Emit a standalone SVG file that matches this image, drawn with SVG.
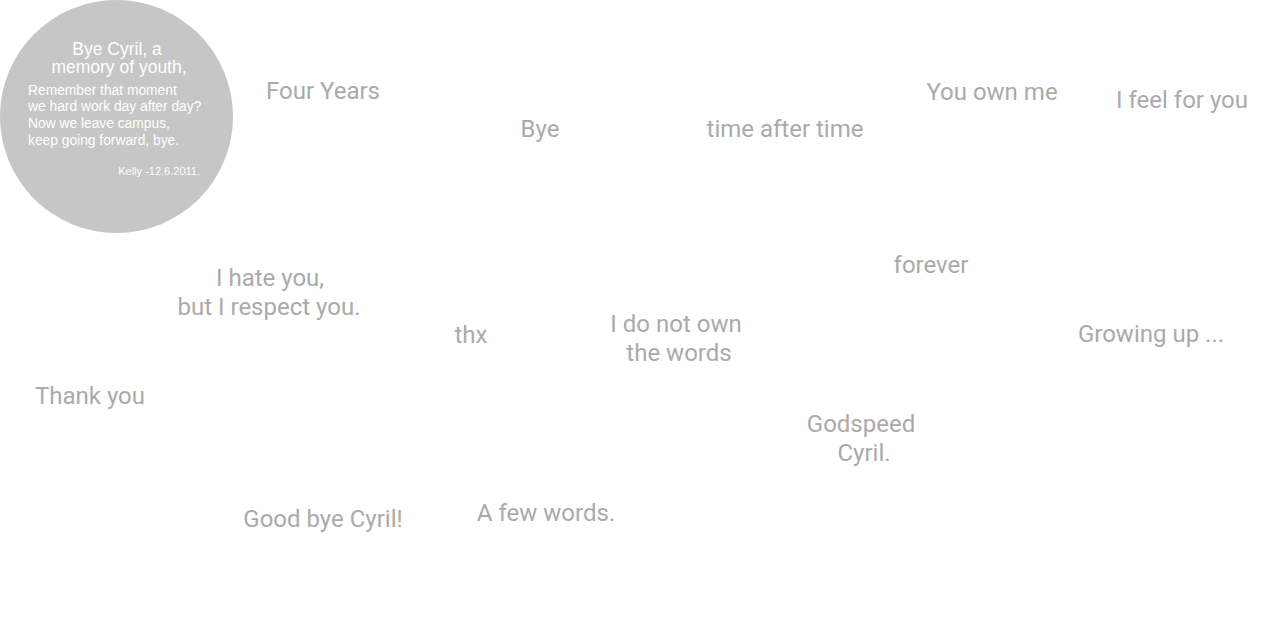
<svg xmlns="http://www.w3.org/2000/svg" width="1281" height="637" viewBox="0 0 1281 637">
<style>
.w{font-family:Roboto,"Liberation Sans",sans-serif;font-size:24px;fill:#aaaaaa;text-anchor:middle}
.c{font-family:"Liberation Sans",Arial,sans-serif;fill:#ffffff}
</style>
<rect width="1281" height="637" fill="#ffffff"/>
<g id="note">
<circle cx="116.5" cy="116.5" r="116.5" fill="#c6c6c6"/>
<text class="c" x="117" y="55" font-size="17.5" text-anchor="middle">Bye Cyril, a</text>
<text class="c" x="119" y="73" font-size="17.5" text-anchor="middle">memory of youth,</text>
<text class="c" x="28" y="95" font-size="13.8">Remember that moment</text>
<text class="c" x="28" y="111" font-size="13.8">we hard work day after day?</text>
<text class="c" x="28" y="128" font-size="13.8">Now we leave campus,</text>
<text class="c" x="28" y="145" font-size="13.8">keep going forward, bye.</text>
<text class="c" x="200" y="175" font-size="11" text-anchor="end">Kelly -12.6.2011.</text>
</g>
<g id="four-years"><text class="w" x="323" y="99">Four Years</text></g>
<g id="bye"><text class="w" x="540" y="137">Bye</text></g>
<g id="time-after-time"><text class="w" x="785" y="137">time after time</text></g>
<g id="you-own-me"><text class="w" x="992" y="100">You own me</text></g>
<g id="i-feel-for-you"><text class="w" x="1182" y="108">I feel for you</text></g>
<g id="forever"><text class="w" x="931" y="273">forever</text></g>
<g id="i-hate-you"><text class="w" x="270" y="286">I hate you,</text><text class="w" x="269" y="315">but I respect you.</text></g>
<g id="thx"><text class="w" x="471" y="343">thx</text></g>
<g id="i-do-not-own"><text class="w" x="676" y="332">I do not own</text><text class="w" x="679" y="361">the words</text></g>
<g id="growing-up"><text class="w" x="1151" y="342">Growing up ...</text></g>
<g id="thank-you"><text class="w" x="90" y="404">Thank you</text></g>
<g id="godspeed"><text class="w" x="861" y="432">Godspeed</text><text class="w" x="864" y="461">Cyril.</text></g>
<g id="good-bye"><text class="w" x="323" y="527">Good bye Cyril!</text></g>
<g id="a-few-words"><text class="w" x="546" y="521">A few words.</text></g>
<g id="connectors"></g>
</svg>
